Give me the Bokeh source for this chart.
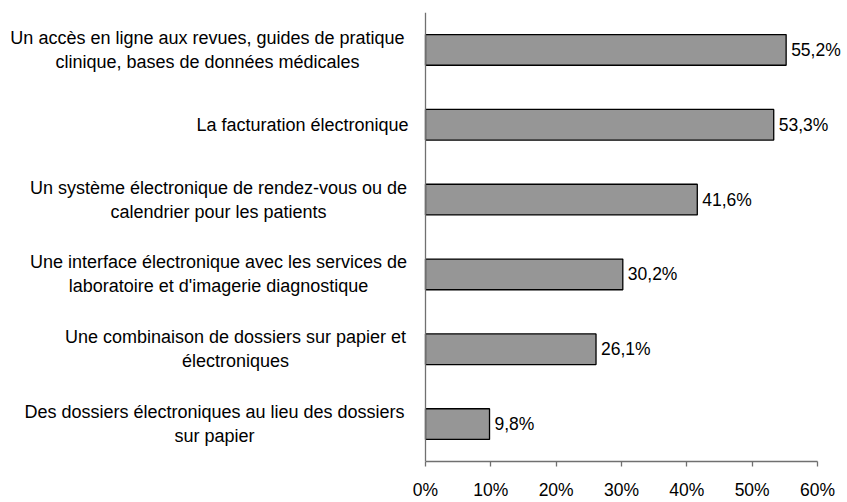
from bokeh.plotting import figure
from bokeh.models import (FactorRange, Range1d, LinearAxis, FixedTicker, Span,
                          ColumnDataSource)
from bokeh.core.properties import value
from bokeh.embed import file_html
from bokeh.resources import INLINE

# ---------------- data ----------------
categories = [
    "Un accès en ligne aux revues, guides de pratique\nclinique, bases de données médicales",
    "La facturation électronique",
    "Un système électronique de rendez-vous ou de\ncalendrier pour les patients",
    "Une interface électronique avec les services de\nlaboratoire et d'imagerie diagnostique",
    "Une combinaison de dossiers sur papier et\nélectroniques",
    "Des dossiers électroniques au lieu des dossiers\nsur papier",
]
values = [55.2, 53.3, 41.6, 30.2, 26.1, 9.8]
value_labels = ["55,2%", "53,3%", "41,6%", "30,2%", "26,1%", "9,8%"]
tick_values = [0, 10, 20, 30, 40, 50, 60]
tick_labels = ["0%", "10%", "20%", "30%", "40%", "50%", "60%"]

# ---------------- layout constants ----------------
W, H = 847, 502
AXIS_PX = 425.0      # pixel of 0 %
END_PX = 817.0       # pixel of 60 %
scale = (END_PX - AXIS_PX) / 60.0
x0 = -AXIS_PX / scale
x1 = 60 + (W - END_PX) / scale
# centre (in figure pixels) of each category label block
label_centers = [207, 302, 218, 218, 235, 214]

FONT = "Liberation Sans"
FS = "17.5px"
CAT_FS = "18px"

keys = [str(i) for i in range(len(categories))]
src = ColumnDataSource(dict(
    key=keys, val=values, vlab=value_labels, cat=categories,
    cx=label_centers,
))

p = figure(width=W, height=H, output_backend="svg", toolbar_location=None,
           x_range=Range1d(x0, x1), y_range=FactorRange(*reversed(keys)),
           x_axis_location=None, y_axis_location=None,
           min_border_left=0, min_border_right=0, min_border_top=12,
           min_border_bottom=0)
p.outline_line_color = None
p.xgrid.visible = False
p.ygrid.visible = False
p.background_fill_color = "white"
p.border_fill_color = "white"

p.extra_x_ranges["px"] = Range1d(0, W)

p.hbar(y="key", right="val", left=0, height=0.41, source=src,
       fill_color="#969696", line_color="black", line_width=1.3)

p.text(x="val", y="key", text="vlab", source=src, x_offset=5,
       text_baseline="middle", text_align="left",
       text_font=value(FONT), text_font_size=FS, text_color="black")

p.text(x="cx", y="key", text="cat", source=src, x_range_name="px",
       text_baseline="middle", text_align="center", text_line_height=1.2,
       text_font=value(FONT), text_font_size=CAT_FS, text_color="black")

# left axis line
p.add_layout(Span(location=0, dimension="height", line_color="#707070",
                  line_width=1.3))

xaxis = LinearAxis(bounds=(0, 60), ticker=FixedTicker(ticks=tick_values),
                   major_label_overrides={v: l for v, l in zip(tick_values, tick_labels)},
                   axis_line_color="#707070", axis_line_width=1.3,
                   major_tick_line_color="#707070", major_tick_line_width=1.3,
                   major_tick_in=0, major_tick_out=5, minor_tick_line_color=None,
                   major_label_standoff=13,
                   major_label_text_font=FONT, major_label_text_font_size=FS,
                   major_label_text_color="black")
p.add_layout(xaxis, "below")

open("out.html", "w").write(file_html(p, INLINE))
